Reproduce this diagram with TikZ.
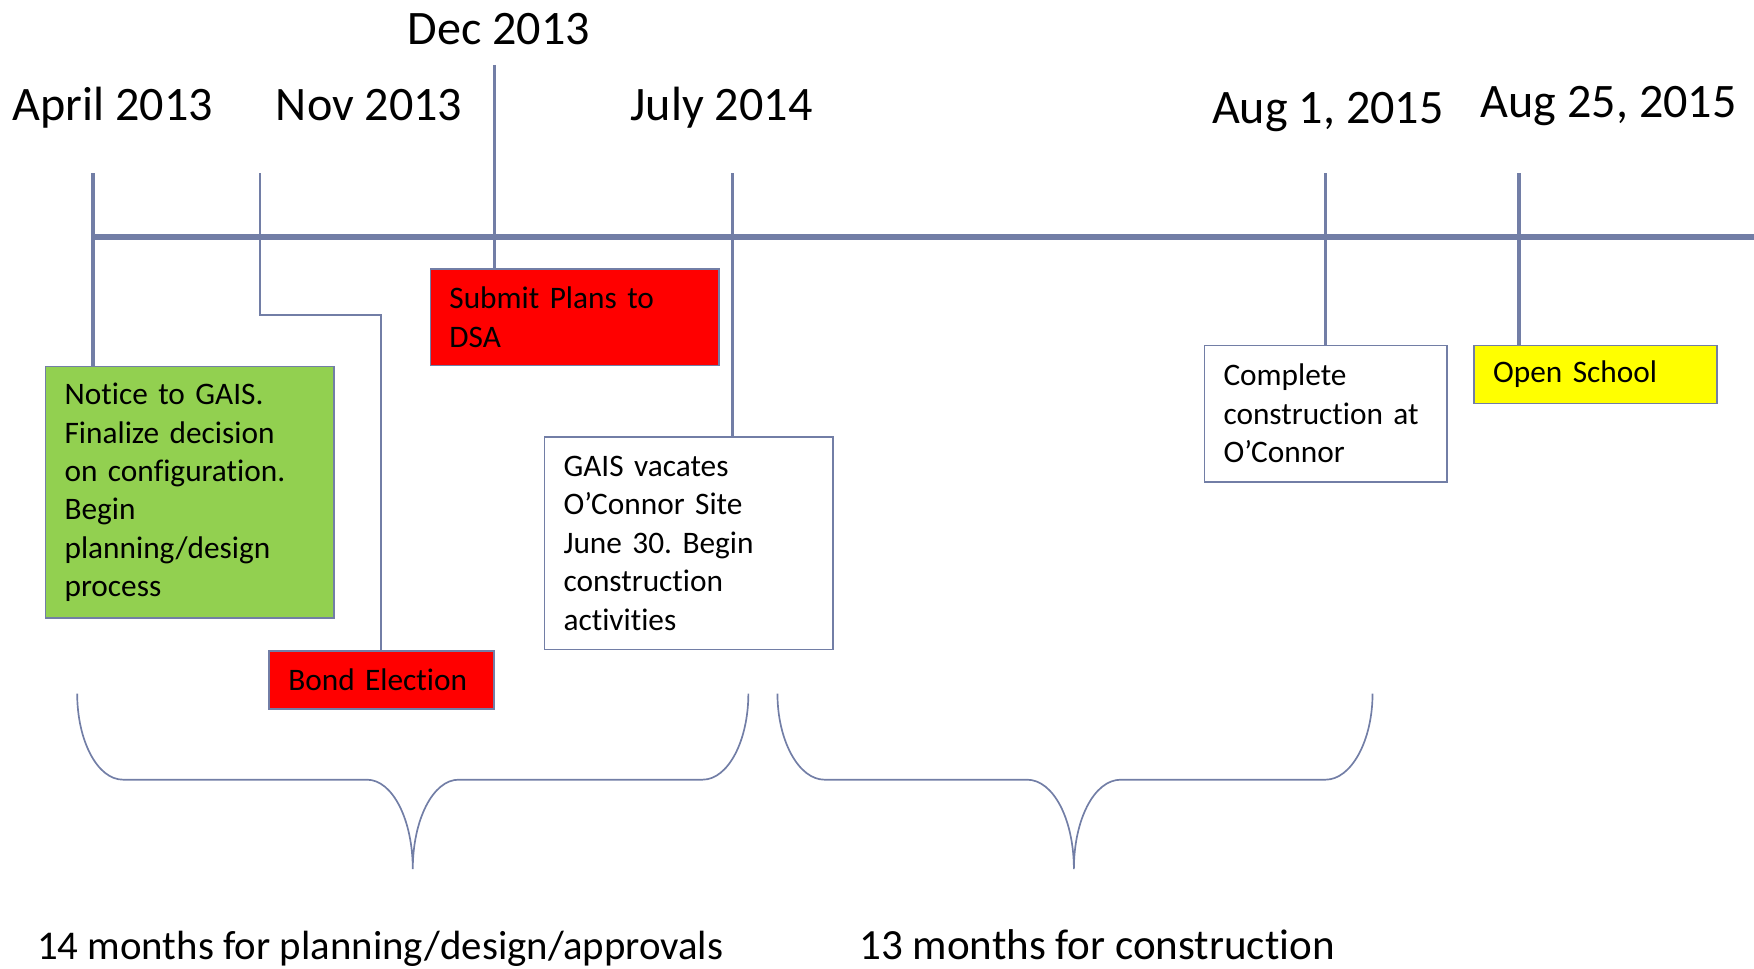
\documentclass[tikz,border=0pt]{standalone}
\usepackage{fontspec}
\setmainfont{Carlito}[RawFeature={-liga;-clig;-dlig}]
\frenchspacing
\definecolor{ln}{RGB}{114,126,166}
\definecolor{gfill}{RGB}{146,208,80}
\definecolor{rfill}{RGB}{255,0,0}
\definecolor{yfill}{RGB}{255,255,0}
\tikzset{
  box/.style={draw=ln, line width=1.5pt, anchor=north west, inner xsep=17pt, inner ysep=0pt,
    align=left, font=\fontsize{28}{34.4}\selectfont, text=black},
  tickline/.style={draw=ln, line width=3pt},
  thinline/.style={draw=ln, line width=1.8pt},
  axisline/.style={draw=ln, line width=5pt},
  datelbl/.style={anchor=base, font=\fontsize{43}{50}\selectfont, inner sep=0pt},
  spanlbl/.style={anchor=base west, inner sep=0pt},
  bracepath/.style={draw=ln, line width=1.5pt},
}
\begin{document}
\begin{tikzpicture}[x=1pt,y=-1pt]
\useasboundingbox (0,0) rectangle (1568,866);
% date labels
\node[datelbl] (dApr) at (101,108) {April 2013};
\node[datelbl] (dNov) at (330,108) {Nov 2013};
\node[datelbl] (dDec) at (446,40) {Dec 2013};
\node[datelbl] (dJul) at (645,108) {July 2014};
\node[datelbl] (dAug1) at (1187,110) {Aug 1, 2015};
\node[datelbl] (dAug25) at (1438,105) {Aug 25, 2015};
% tick tops
\coordinate (tA) at (83,155);
\coordinate (tN) at (232,155);
\coordinate (tD) at (442,58);
\coordinate (tJ) at (655,155);
\coordinate (tG) at (1185,155);
\coordinate (tO) at (1358,155);
\coordinate (nbend) at (341,282);
% axis
\coordinate (ls) at (83,212);
\coordinate (le) at (1568,212);
% boxes
\node[box, fill=gfill, minimum width=258pt, minimum height=225pt, text width=224pt] (green) at (40,327)
  {Notice to GAIS.\\Finalize decision\\on configuration.\\Begin\\planning/design\\process};
\node[box, fill=rfill, minimum width=201pt, minimum height=52pt, text width=167pt] (bond) at (240,581)
  {Bond Election};
\node[box, fill=rfill, minimum width=258pt, minimum height=86pt, text width=224pt] (submit) at (384,240)
  {Submit Plans to\\DSA};
\node[box, fill=white, minimum width=258pt, minimum height=190pt, text width=224pt] (gais) at (486,390)
  {GAIS vacates\\O’Connor Site\\June 30. Begin\\construction\\activities};
\node[box, fill=white, minimum width=217pt, minimum height=122pt, text width=183pt] (complete) at (1076,308)
  {Complete\\construction at\\O’Connor};
\node[box, fill=yfill, minimum width=217pt, minimum height=52pt, text width=183pt] (open) at (1317,308)
  {Open School};
% connectors
\draw[tickline] (tA) -- (tA |- green.north);
\draw[thinline] (tN) |- (nbend) -- (nbend |- bond.north);
\draw[tickline] (tD) -- (tD |- submit.north);
\draw[tickline] (tJ) -- (tJ |- gais.north);
\draw[tickline] (tG) -- (tG |- complete.north);
\draw[tickline] (tO) -- (tO |- open.north);
\draw[axisline] (ls) -- (le);
% braces
\draw[bracepath] (69,620) .. controls (69,662) and (87,697) .. (110,697) -- (328,697)
  .. controls (351,697) and (369,733) .. (369,777)
  .. controls (369,733) and (387,697) .. (410,697) -- (628,697)
  .. controls (651,697) and (669,662) .. (669,620);
\draw[bracepath] (695,620) .. controls (695,662) and (714,697) .. (737,697) -- (918,697)
  .. controls (942,697) and (960,733) .. (960,777)
  .. controls (960,733) and (978,697) .. (1002,697) -- (1185,697)
  .. controls (1208,697) and (1227,662) .. (1227,620);
% span labels
\node[spanlbl, font=\fontsize{36.5}{44}\selectfont] (s1) at (33,858) {14 months for planning/design/approvals};
\node[spanlbl, font=\fontsize{38.5}{46}\selectfont] (s2) at (768,858) {13 months for construction};
\end{tikzpicture}
\end{document}
